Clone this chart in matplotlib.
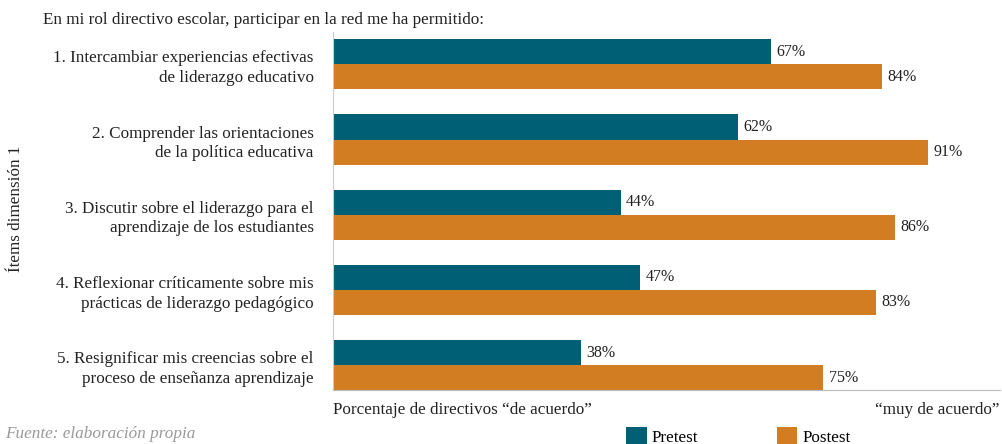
import numpy as np
import matplotlib.pyplot as plt

# Datos
items = [
    "1. Intercambiar experiencias efectivas\nde liderazgo educativo",
    "2. Comprender las orientaciones\nde la política educativa",
    "3. Discutir sobre el liderazgo para el\naprendizaje de los estudiantes",
    "4. Reflexionar críticamente sobre mis\nprácticas de liderazgo pedagógico",
    "5. Resignificar mis creencias sobre el\nproceso de enseñanza aprendizaje",
]
pretest = [67, 62, 44, 47, 38]
postest = [84, 91, 86, 83, 75]

teal = "#005e75"
orange = "#d37d22"
plt.rcParams['font.family'] = ['Liberation Serif', 'DejaVu Serif']

fig = plt.figure(figsize=(10.03, 4.44), dpi=100)
ax = fig.add_axes([0.332, 0.1216, 0.665, 0.8064])

y = np.arange(len(items))
h = 0.333
ax.barh(y - h / 2, pretest, height=h, color=teal, label="Pretest")
ax.barh(y + h / 2, postest, height=h, color=orange, label="Postest")

for yi, v in zip(y, pretest):
    ax.text(v + 0.8, yi - h / 2, f"{v}%", va="center", ha="left", fontsize=11.5, color="#222222")
for yi, v in zip(y, postest):
    ax.text(v + 0.8, yi + h / 2, f"{v}%", va="center", ha="left", fontsize=11.5, color="#222222")

ax.set_xlim(0, 102)
ax.set_ylim(4.33, -0.43)
ax.set_yticks(y)
ax.set_yticklabels(items, fontsize=12.3, linespacing=1.3, color="#222222")
ax.set_xticks([])
ax.tick_params(axis="y", length=0, pad=14)
for s in ["top", "right"]:
    ax.spines[s].set_visible(False)
ax.spines["left"].set_color("#cccccc")
ax.spines["bottom"].set_color("#bbbbbb")

fig.text(0.043, 0.955, "En mi rol directivo escolar, participar en la red me ha permitido:",
         fontsize=12.3, color="#222222", va="center")
fig.text(0.016, 0.53, "Ítems dimensión 1", rotation=90, fontsize=12.3,
         color="#222222", va="center", ha="center")
fig.text(0.332, 0.077, "Porcentaje de directivos “de acuerdo”", fontsize=12.3,
         color="#222222", va="center")
fig.text(0.997, 0.077, "“muy de acuerdo”", fontsize=12.3, color="#222222",
         va="center", ha="right")
fig.text(0.005, 0.022, "Fuente: elaboración propia", fontsize=12.3, color="#999999",
         style="italic", va="center")

leg = ax.legend(loc="center", bbox_to_anchor=(0.608, -0.13), ncol=2, frameon=False,
                fontsize=12.3, handlelength=1.2, handleheight=1.2, columnspacing=4.6,
                handletextpad=0.3)

fig.savefig("out.png", dpi=100)
